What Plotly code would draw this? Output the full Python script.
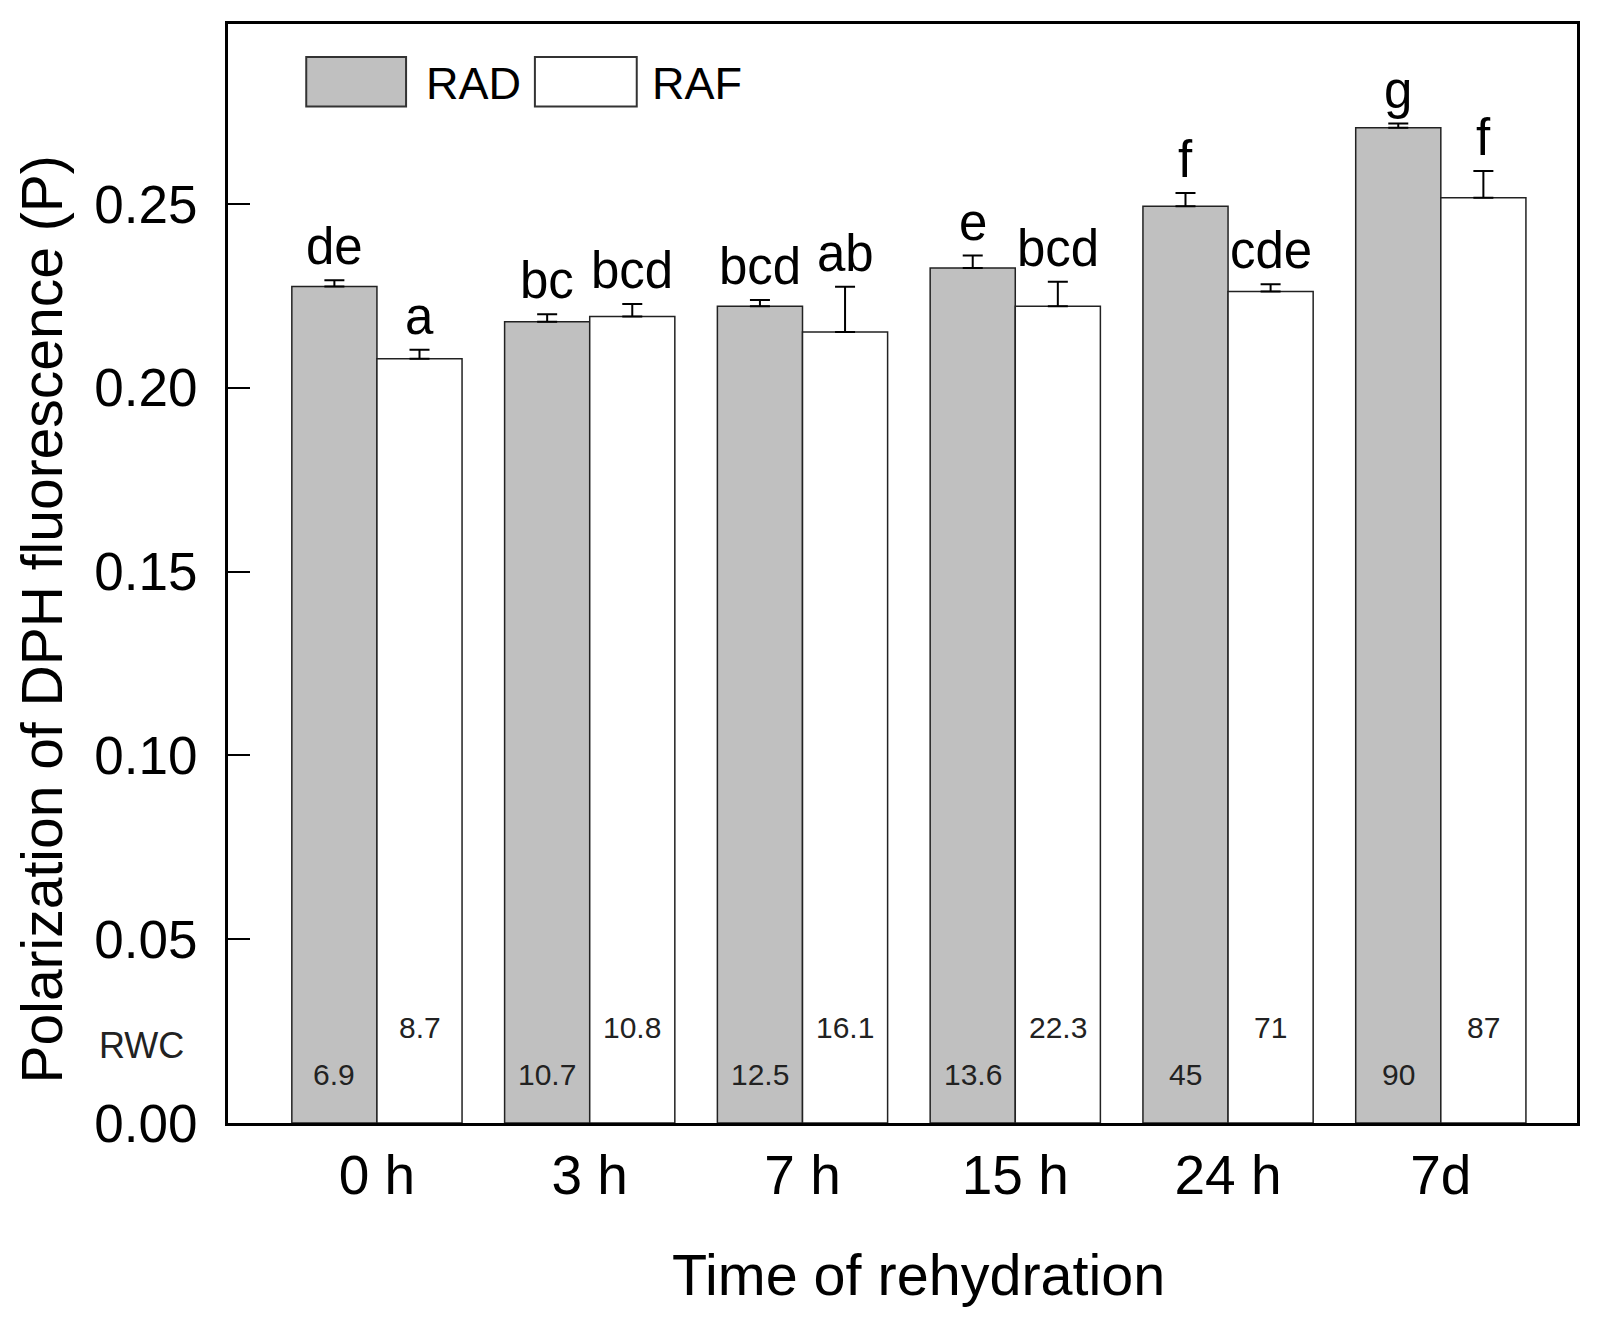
import plotly.graph_objects as go

categories = ["0 h", "3 h", "7 h", "15 h", "24 h", "7d"]
rad_values = [0.2276, 0.2180, 0.2222, 0.2326, 0.2494, 0.2708]
rad_errors = [0.0017, 0.0020, 0.0017, 0.0034, 0.0036, 0.0011]
raf_values = [0.2079, 0.2194, 0.2152, 0.2222, 0.2262, 0.2517]
raf_errors = [0.0025, 0.0034, 0.0123, 0.0067, 0.0020, 0.0073]
rad_letters = ["de", "bc", "bcd", "e", "f", "g"]
raf_letters = ["a", "bcd", "ab", "bcd", "cde", "f"]
rad_rwc = ["6.9", "10.7", "12.5", "13.6", "45", "90"]
raf_rwc = ["8.7", "10.8", "16.1", "22.3", "71", "87"]

FONT = "Arial, Liberation Sans, sans-serif"
GRAY = "#c0c0c0"
BARGAP = 0.2
off = (1 - BARGAP) / 4

fig = go.Figure()
fig.add_trace(go.Bar(
    x=categories, y=rad_values, name="RAD",
    marker=dict(color=GRAY, line=dict(color="#222222", width=1.5)),
    error_y=dict(type="data", array=rad_errors, arrayminus=[0] * 6, symmetric=False,
                 color="black", thickness=2, width=10),
))
fig.add_trace(go.Bar(
    x=categories, y=raf_values, name="RAF",
    marker=dict(color="white", line=dict(color="#222222", width=1.5)),
    error_y=dict(type="data", array=raf_errors, arrayminus=[0] * 6, symmetric=False,
                 color="black", thickness=2, width=10),
))

ann = []
for i in range(len(categories)):
    ann.append(dict(x=i - off, y=rad_values[i] + rad_errors[i], xref="x", yref="y",
                    text=rad_letters[i], showarrow=False, yanchor="bottom", yshift=3,
                    font=dict(family=FONT, size=51, color="black")))
    ann.append(dict(x=i + off, y=raf_values[i] + raf_errors[i], xref="x", yref="y",
                    text=raf_letters[i], showarrow=False, yanchor="bottom", yshift=3,
                    font=dict(family=FONT, size=51, color="black")))
    ann.append(dict(x=i - off, y=0.0132, xref="x", yref="y", text=rad_rwc[i],
                    showarrow=False, yanchor="middle",
                    font=dict(family=FONT, size=30, color="#222222")))
    ann.append(dict(x=i + off, y=0.0261, xref="x", yref="y", text=raf_rwc[i],
                    showarrow=False, yanchor="middle",
                    font=dict(family=FONT, size=30, color="#222222")))

ann.append(dict(x=-0.064, y=0.021, xref="paper", yref="y", text="RWC", showarrow=False,
                xanchor="center", yanchor="middle",
                font=dict(family=FONT, size=36, color="#222222")))
# axis titles
ann.append(dict(x=-0.138, y=0.458, xref="paper", yref="paper",
                text="Polarization of DPH fluorescence (P)", textangle=-90, showarrow=False,
                xanchor="center", yanchor="middle",
                font=dict(family=FONT, size=57, color="black")))
ann.append(dict(x=0.5115, y=-0.138, xref="paper", yref="paper",
                text="Time of rehydration", showarrow=False,
                xanchor="center", yanchor="middle",
                font=dict(family=FONT, size=57.5, color="black")))
# legend labels
ann.append(dict(x=0.145, y=0.946, xref="paper", yref="paper", text="RAD", showarrow=False,
                xanchor="left", yanchor="middle", font=dict(family=FONT, size=45, color="black")))
ann.append(dict(x=0.3125, y=0.946, xref="paper", yref="paper", text="RAF", showarrow=False,
                xanchor="left", yanchor="middle", font=dict(family=FONT, size=45, color="black")))

shapes = [
    dict(type="rect", xref="paper", yref="paper", x0=0.058, x1=0.132, y0=0.925, y1=0.970,
         fillcolor=GRAY, line=dict(color="#333333", width=2)),
    dict(type="rect", xref="paper", yref="paper", x0=0.2275, x1=0.303, y0=0.925, y1=0.970,
         fillcolor="white", line=dict(color="#333333", width=2)),
]

fig.update_layout(
    width=1618, height=1318,
    margin=dict(l=220, r=49, t=16, b=203),
    plot_bgcolor="white", paper_bgcolor="white",
    barmode="group", bargap=BARGAP, bargroupgap=0,
    showlegend=False,
    annotations=ann, shapes=shapes,
    font=dict(family=FONT, color="black"),
)
fig.update_xaxes(
    type="category", range=[-0.70, 5.64],
    showline=True, mirror=True, linecolor="black", linewidth=3,
    ticks="", showgrid=False, zeroline=False,
    tickfont=dict(family=FONT, size=55, color="black"),
    ticklabelstandoff=2,
)
fig.update_yaxes(
    range=[0, 0.299], tickvals=[0, 0.05, 0.10, 0.15, 0.20, 0.25], tickformat=".2f",
    showline=True, mirror=True, linecolor="black", linewidth=3,
    ticks="inside", ticklen=22, tickwidth=2, tickcolor="black",
    showgrid=False, zeroline=False,
    tickfont=dict(family=FONT, size=53, color="black"),
    ticklabelstandoff=17,
)

fig.write_html("out.html")
